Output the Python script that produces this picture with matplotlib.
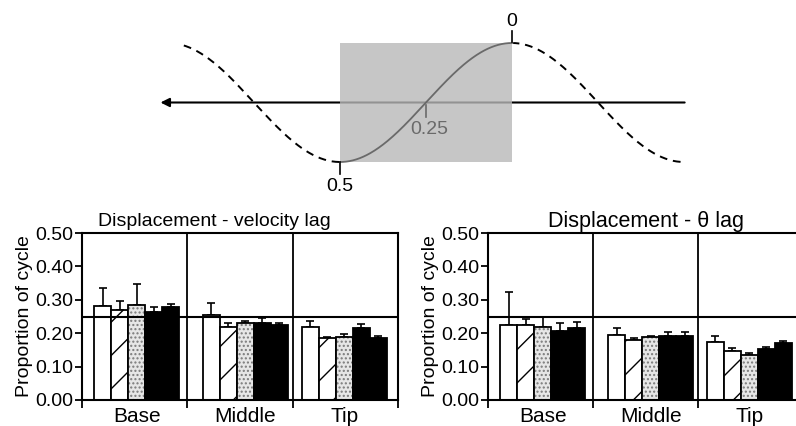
import numpy as np
import matplotlib
matplotlib.use("Agg")
import matplotlib.pyplot as plt
from matplotlib.patches import Rectangle

plt.rcParams['font.family'] = ['Liberation Sans', 'DejaVu Sans']

groups = ['Base', 'Middle', 'Tip']
# five conditions per group: white, hatched, stippled, black, black
vel_lag = [[0.280, 0.270, 0.283, 0.262, 0.277],
           [0.255, 0.218, 0.232, 0.230, 0.225],
           [0.220, 0.185, 0.188, 0.215, 0.187]]
vel_err = [[0.055, 0.025, 0.064, 0.015, 0.010],
           [0.035, 0.012, 0.005, 0.015, 0.005],
           [0.017, 0.005, 0.010, 0.013, 0.005]]
theta_lag = [[0.225, 0.225, 0.220, 0.207, 0.217],
             [0.195, 0.180, 0.190, 0.193, 0.193],
             [0.173, 0.148, 0.135, 0.152, 0.172]]
theta_err = [[0.097, 0.018, 0.030, 0.023, 0.016],
             [0.020, 0.007, 0.003, 0.012, 0.012],
             [0.020, 0.007, 0.005, 0.006, 0.005]]
yticks = [0.0, 0.1, 0.2, 0.3, 0.4, 0.5]
ref_line = 0.25

# schematic wave: phase marks along one cycle
phase_marks = [0.0, 0.25, 0.5]
phase_labels = ['0', '0.25', '0.5']


def draw_bars(ax, vals, errs, centers, title, title_x, title_size):
    w = 0.162
    for g, c in enumerate(centers):
        xs = c + (np.arange(5) - 2) * w
        for i, x in enumerate(xs):
            v = vals[g][i]
            if i == 0:
                ax.bar(x, v, w, color='white', edgecolor='black', lw=1.3, zorder=2)
            elif i == 1:
                ax.bar(x, v, w, color='white', edgecolor='black', lw=0, hatch='/', zorder=2)
                ax.bar(x, v, w, fill=False, edgecolor='black', lw=1.3, zorder=2)
            elif i == 2:
                ax.bar(x, v, w, color='#e6e6e6', edgecolor='#7a7a7a', lw=0, hatch='....', zorder=2)
                ax.bar(x, v, w, fill=False, edgecolor='black', lw=1.3, zorder=2)
            else:
                ax.bar(x, v, w, color='black', edgecolor='black', lw=1.3, zorder=2)
            ax.errorbar(x, v, yerr=[[0], [errs[g][i]]], fmt='none', ecolor='black',
                        elinewidth=1.2, capsize=3, capthick=1.2, zorder=1.5)
    ax.axhline(ref_line, color='black', lw=1.5, zorder=3)
    for d in [1, 2]:
        ax.axvline(d, color='black', lw=1.3, zorder=3)
    ax.set_xlim(0, 3)
    ax.set_ylim(0, 0.5)
    ax.set_yticks(yticks)
    ax.set_yticklabels([f'{t:.2f}' for t in yticks], fontsize=14)
    ax.set_xticks(centers)
    ax.set_xticklabels(groups, fontsize=15)
    ax.set_xticks([0, 1, 2, 3], minor=True)
    ax.tick_params(axis='x', which='major', length=0, pad=5)
    ax.tick_params(axis='x', which='minor', length=6, width=1.3)
    ax.tick_params(axis='y', length=5, width=1.3, pad=1)
    for s in ax.spines.values():
        s.set_linewidth(1.5)
    ax.set_ylabel('Proportion of cycle', fontsize=14, labelpad=2)
    fig.text(title_x / 796, 1 - 221 / 426, title, fontsize=title_size,
             ha='center', va='center')


fig = plt.figure(figsize=(7.96, 4.26), dpi=100)

# top schematic: x in cycle phase (increasing leftward), y in amplitude
axw = fig.add_axes([0, 1 - 200 / 426, 1, 200 / 426])
axw.set_xlim(512 / 344, (512 - 796) / 344)
axw.set_ylim((102.5 - 200) / 59.5, 102.5 / 59.5)
axw.axis('off')
axw.annotate('', xy=(1.03, 0), xytext=(-0.51, 0),
             arrowprops=dict(arrowstyle='-|>', color='black', lw=1.5,
                             mutation_scale=13))
axw.add_patch(Rectangle((0, -1), 0.5, 2, facecolor='#b8b8b8', alpha=0.8,
                        edgecolor='none', zorder=3))
ph = np.linspace(-0.49, 0.97, 400)
axw.plot(np.where(ph <= 0, ph, np.nan), np.cos(2 * np.pi * ph), 'k--', lw=1.4,
         dashes=(4, 3), zorder=4)
axw.plot(np.where(ph >= 0.5, ph, np.nan), np.cos(2 * np.pi * ph), 'k--', lw=1.4,
         dashes=(4, 3), zorder=4)
ps = np.linspace(0, 0.5, 200)
axw.plot(ps, np.cos(2 * np.pi * ps), color='#6a6a6a', lw=1.3, zorder=4)
# phase ticks
axw.plot([phase_marks[0]] * 2, [1.01, 1.2], color='black', lw=1.2, zorder=4)
axw.plot([phase_marks[1]] * 2, [-0.04, -0.24], color='#6a6a6a', lw=1.2, zorder=4)
axw.plot([phase_marks[2]] * 2, [-1.0, -1.2], color='black', lw=1.2, zorder=4)
axw.text(phase_marks[0], 1.36, phase_labels[0], fontsize=14, ha='center', va='center')
axw.text(phase_marks[1] - 0.01, -0.46, phase_labels[1], fontsize=14, ha='center',
         va='center', color='#6a6a6a', zorder=5)
axw.text(phase_marks[2], -1.42, phase_labels[2], fontsize=14, ha='center', va='center')

ax1 = fig.add_axes([82 / 796, 26 / 426, 316 / 796, 167 / 426])
draw_bars(ax1, vel_lag, vel_err, [0.52, 1.55, 2.49],
          'Displacement - velocity lag', 214, 14)
ax2 = fig.add_axes([488 / 796, 26 / 426, 315 / 796, 167 / 426])
draw_bars(ax2, theta_lag, theta_err, [0.52, 1.55, 2.49],
          'Displacement - θ lag', 646, 15.5)

fig.savefig('out.png', dpi=100)
